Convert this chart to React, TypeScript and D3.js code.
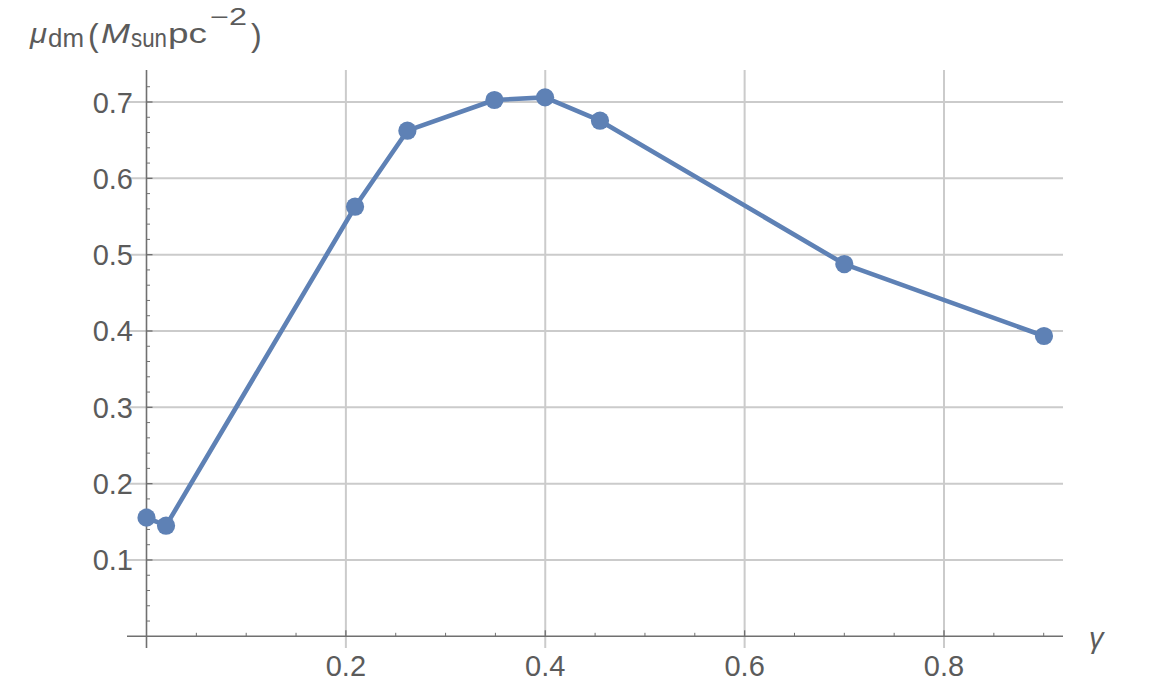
import React from "react";
import * as d3 from "d3";

const gammaValues = [0, 0.0196, 0.2092, 0.2617, 0.349, 0.3998, 0.4549, 0.700, 0.9003];
const muValues = [0.1554, 0.1449, 0.5628, 0.6624, 0.7026, 0.7061, 0.6755, 0.4877, 0.3934];
const xTickValues = [0.2, 0.4, 0.6, 0.8];
const yTickValues = [0.1, 0.2, 0.3, 0.4, 0.5, 0.6, 0.7];

const W = 1158;
const H = 689;
const FONT = "'Liberation Sans', Arial, sans-serif";
const TEXT = "#5b5b5b";
const AXIS = "#707070";
const GRID = "#cbcbcb";
const LINE = "#5e81b5";

export default function App() {
  const x = d3.scaleLinear().domain([0, 0.8]).range([146.5, 944]);
  const y = d3.scaleLinear().domain([0, 0.7]).range([636.3, 102]);
  const xMin = 127, xMax = 1063;
  const yTop = 70, yBot = 648;
  const data = gammaValues.map((g, i) => [g, muValues[i]] as [number, number]);
  const line = d3.line<[number, number]>().x(d => x(d[0])).y(d => y(d[1]));
  const xMinor = d3.range(0.05, 0.92, 0.05).filter(v => Math.abs(v * 5 - Math.round(v * 5)) > 1e-6);
  const yMinor = d3.range(0.02, 0.74, 0.02).filter(v => Math.abs(v * 10 - Math.round(v * 10)) > 1e-6);

  return (
    <svg width={W} height={H} style={{ position: "absolute", left: 0, top: 0, background: "#fff" }}>
      {/* grid */}
      {xTickValues.map(v => (
        <line key={"gx" + v} x1={x(v)} x2={x(v)} y1={yTop} y2={yBot} stroke={GRID} strokeWidth={2} />
      ))}
      {yTickValues.map(v => (
        <line key={"gy" + v} x1={xMin} x2={xMax} y1={y(v)} y2={y(v)} stroke={GRID} strokeWidth={2} />
      ))}
      {/* axes */}
      <line x1={xMin} x2={xMax} y1={y(0)} y2={y(0)} stroke={AXIS} strokeWidth={1.6} />
      <line x1={x(0)} x2={x(0)} y1={yTop} y2={yBot} stroke={AXIS} strokeWidth={1.6} />
      {/* x ticks */}
      {xTickValues.map(v => (
        <line key={"xt" + v} x1={x(v)} x2={x(v)} y1={y(0)} y2={y(0) - 6} stroke={AXIS} strokeWidth={1.3} />
      ))}
      {xMinor.map(v => (
        <line key={"xm" + v} x1={x(v)} x2={x(v)} y1={y(0)} y2={y(0) - 3.5} stroke={AXIS} strokeWidth={1} />
      ))}
      {/* y ticks */}
      {yTickValues.map(v => (
        <line key={"yt" + v} x1={x(0)} x2={x(0) + 6} y1={y(v)} y2={y(v)} stroke={AXIS} strokeWidth={1.3} />
      ))}
      {yMinor.map(v => (
        <line key={"ym" + v} x1={x(0)} x2={x(0) + 3.5} y1={y(v)} y2={y(v)} stroke={AXIS} strokeWidth={1} />
      ))}
      {/* tick labels */}
      {xTickValues.map(v => (
        <text key={"xl" + v} x={x(v)} y={676} textAnchor="middle" fontFamily={FONT} fontSize={29} fill={TEXT}>
          {d3.format(".1f")(v)}
        </text>
      ))}
      {yTickValues.map(v => (
        <text key={"yl" + v} x={133} y={y(v) + 10.5} textAnchor="end" fontFamily={FONT} fontSize={29} fill={TEXT}>
          {d3.format(".1f")(v)}
        </text>
      ))}
      {/* axis labels */}
      <text x={1089} y={648} fontFamily={FONT} fontSize={29} fontStyle="italic" fill={TEXT}>γ</text>
      <g fontFamily={FONT} fill={TEXT}>
        <text x={30} y={43} fontSize={28} fontStyle="italic" textLength={17} lengthAdjust="spacingAndGlyphs">μ</text>
        <text x={48} y={47} fontSize={26} textLength={36} lengthAdjust="spacingAndGlyphs">dm</text>
        <text x={88} y={46} fontSize={32}>(</text>
        <text x={101} y={43} fontSize={27} fontStyle="italic" textLength={29} lengthAdjust="spacingAndGlyphs">M</text>
        <text x={131} y={47} fontSize={25} textLength={36} lengthAdjust="spacingAndGlyphs">sun</text>
        <text x={168} y={43} fontSize={28} textLength={39} lengthAdjust="spacingAndGlyphs">pc</text>
        <text x={210} y={25} fontSize={23} textLength={37} lengthAdjust="spacingAndGlyphs">−2</text>
        <text x={251} y={46} fontSize={32}>)</text>
      </g>
      {/* data */}
      <path d={line(data) || ""} fill="none" stroke={LINE} strokeWidth={4.6} strokeLinejoin="round" />
      {data.map((d, i) => (
        <circle key={"p" + i} cx={x(d[0])} cy={y(d[1])} r={9.1} fill={LINE} />
      ))}
    </svg>
  );
}
